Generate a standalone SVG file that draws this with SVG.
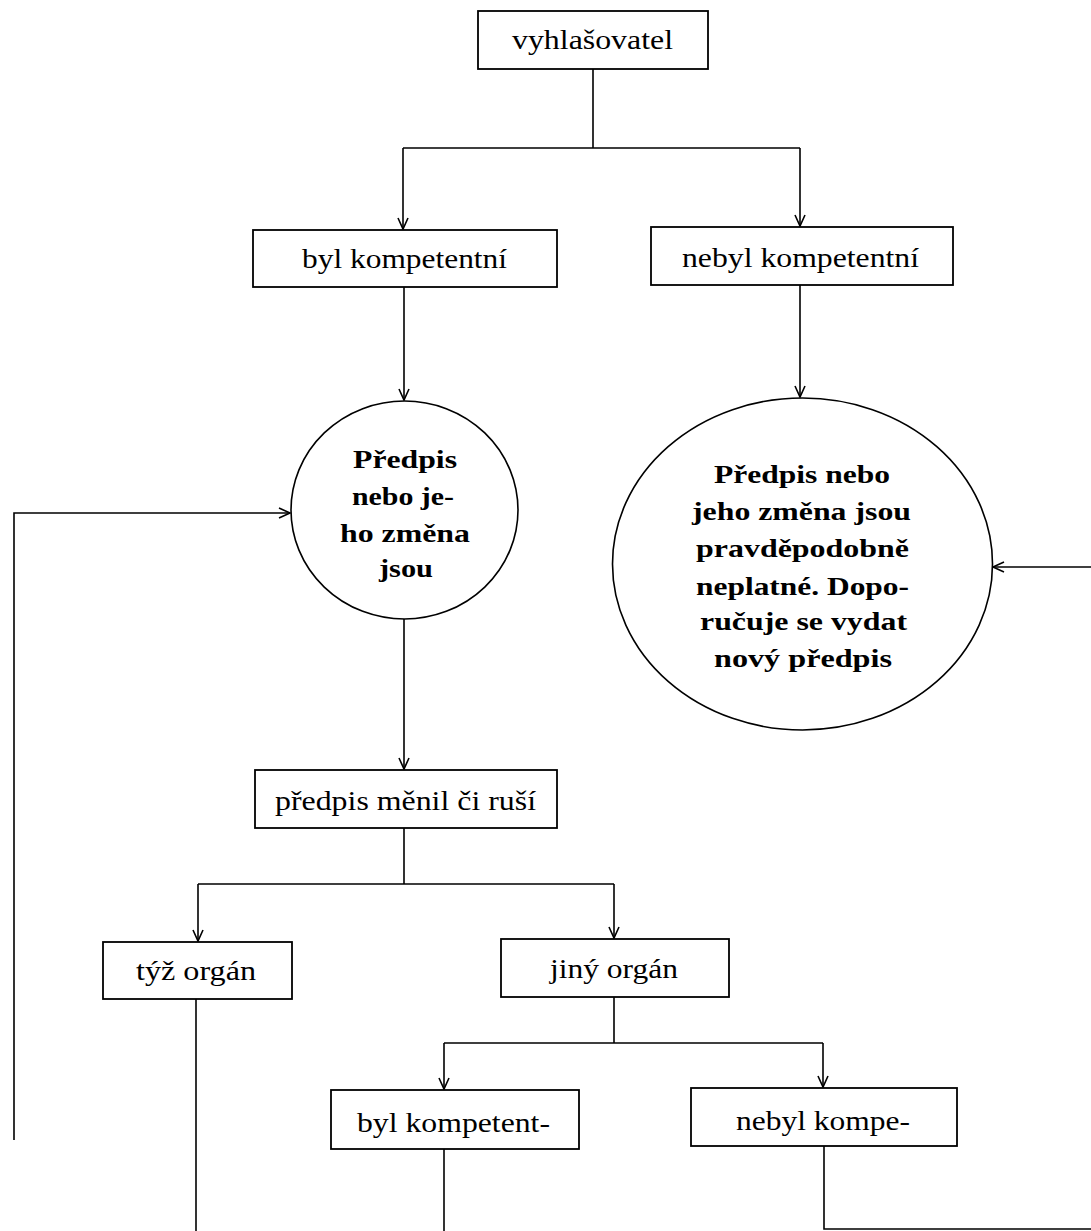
<svg xmlns="http://www.w3.org/2000/svg" width="1091" height="1231" viewBox="0 0 1091 1231">
<defs>
<style>
.box{fill:#fff;stroke:#000;stroke-width:1.8}
.ell{fill:#fff;stroke:#000;stroke-width:1.6}
.lbl{font-family:"Liberation Serif","Times New Roman",serif;font-size:27px;fill:#000}
.bld{font-family:"Liberation Serif","Times New Roman",serif;font-size:25px;font-weight:bold;fill:#000}
.con{fill:none;stroke:#000;stroke-width:1.6}
</style>
<marker id="arr" markerUnits="userSpaceOnUse" markerWidth="14" markerHeight="14" viewBox="-12 -7 14 14" refX="0" refY="0" orient="auto">
<path d="M-11,-5 L0,0 L-11,5" fill="none" stroke="#000" stroke-width="1.6"/>
</marker>
</defs>
<rect width="1091" height="1231" fill="#fff"/>
<g id="connectors">
<path class="con" d="M593,69 V148 M403,148 H800"/>
<path class="con" d="M403,148 V229" marker-end="url(#arr)"/>
<path class="con" d="M800,148 V226" marker-end="url(#arr)"/>
<path class="con" d="M404,287 V400" marker-end="url(#arr)"/>
<path class="con" d="M800,285 V397" marker-end="url(#arr)"/>
<path class="con" d="M404,619 V769" marker-end="url(#arr)"/>
<path class="con" d="M404,828 V884 M198,884 H614"/>
<path class="con" d="M198,884 V941" marker-end="url(#arr)"/>
<path class="con" d="M614,884 V938" marker-end="url(#arr)"/>
<path class="con" d="M614,997 V1043 M444,1043 H823"/>
<path class="con" d="M444,1043 V1089" marker-end="url(#arr)"/>
<path class="con" d="M823,1043 V1087" marker-end="url(#arr)"/>
<path class="con" d="M196,999 V1231"/>
<path class="con" d="M444,1149 V1231"/>
<path class="con" d="M824,1146 V1229 H1091"/>
<path class="con" d="M14,1140 V513 H290" marker-end="url(#arr)"/>
<path class="con" d="M1091,567 H993" marker-end="url(#arr)"/>
</g>
<g id="n-vyhlasovatel">
<rect class="box" x="478" y="11" width="230" height="58"/>
<text class="lbl" x="512" y="49" textLength="161" lengthAdjust="spacingAndGlyphs">vyhlašovatel</text>
</g>
<g id="n-byl-kompetentni">
<rect class="box" x="253" y="230" width="304" height="57"/>
<text class="lbl" x="302" y="268" textLength="205" lengthAdjust="spacingAndGlyphs">byl kompetentní</text>
</g>
<g id="n-nebyl-kompetentni">
<rect class="box" x="651" y="227" width="302" height="58"/>
<text class="lbl" x="682" y="267" textLength="237" lengthAdjust="spacingAndGlyphs">nebyl kompetentní</text>
</g>
<g id="n-predpis-jsou">
<ellipse class="ell" cx="404.5" cy="510" rx="113.5" ry="109"/>
<text class="bld" x="353" y="468" textLength="104" lengthAdjust="spacingAndGlyphs">Předpis</text>
<text class="bld" x="352" y="505" textLength="102" lengthAdjust="spacingAndGlyphs">nebo je-</text>
<text class="bld" x="340" y="542" textLength="130" lengthAdjust="spacingAndGlyphs">ho změna</text>
<text class="bld" x="379" y="577" textLength="54" lengthAdjust="spacingAndGlyphs">jsou</text>
</g>
<g id="n-neplatne">
<ellipse class="ell" cx="802.5" cy="564" rx="190" ry="166"/>
<text class="bld" x="714" y="483" textLength="176" lengthAdjust="spacingAndGlyphs">Předpis nebo</text>
<text class="bld" x="692" y="520" textLength="219" lengthAdjust="spacingAndGlyphs">jeho změna jsou</text>
<text class="bld" x="696" y="557" textLength="213" lengthAdjust="spacingAndGlyphs">pravděpodobně</text>
<text class="bld" x="696" y="595" textLength="213" lengthAdjust="spacingAndGlyphs">neplatné. Dopo-</text>
<text class="bld" x="700" y="630" textLength="207" lengthAdjust="spacingAndGlyphs">ručuje se vydat</text>
<text class="bld" x="714" y="667" textLength="178" lengthAdjust="spacingAndGlyphs">nový předpis</text>
</g>
<g id="n-predpis-menil">
<rect class="box" x="255" y="770" width="302" height="58"/>
<text class="lbl" x="275" y="810" textLength="261" lengthAdjust="spacingAndGlyphs">předpis měnil či ruší</text>
</g>
<g id="n-tyz-organ">
<rect class="box" x="103" y="942" width="189" height="57"/>
<text class="lbl" x="136" y="980" textLength="120" lengthAdjust="spacingAndGlyphs">týž orgán</text>
</g>
<g id="n-jiny-organ">
<rect class="box" x="501" y="939" width="228" height="58"/>
<text class="lbl" x="550" y="978" textLength="128" lengthAdjust="spacingAndGlyphs">jiný orgán</text>
</g>
<g id="n-byl-kompetent">
<rect class="box" x="331" y="1090" width="248" height="59"/>
<text class="lbl" x="357" y="1132" textLength="193" lengthAdjust="spacingAndGlyphs">byl kompetent-</text>
</g>
<g id="n-nebyl-kompe">
<rect class="box" x="691" y="1088" width="266" height="58"/>
<text class="lbl" x="736" y="1130" textLength="174" lengthAdjust="spacingAndGlyphs">nebyl kompe-</text>
</g>
</svg>
